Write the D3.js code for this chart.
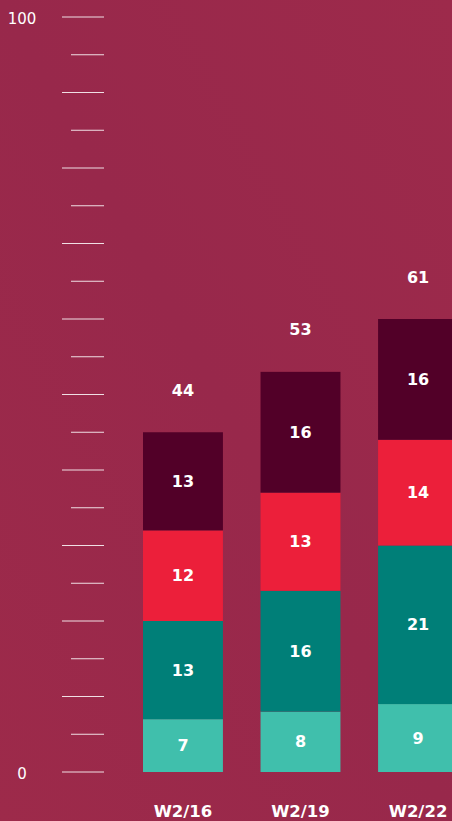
<!DOCTYPE html>
<html>
<head>
<meta charset="utf-8">
<script src="https://cdn.jsdelivr.net/npm/d3@7"></script>
<style>
  html, body { margin: 0; padding: 0; background: #9b2a4b; }
  svg { display: block; }
</style>
</head>
<body>
<svg id="chart" width="452" height="821"></svg>
<script>
// Waves and their stacked shares
const waves = ["W2/16", "W2/19", "W2/22"];
const seriesKeys = ["s1", "s2", "s3", "s4"];
const s1 = [7, 8, 9];
const s2 = [13, 16, 21];
const s3 = [12, 13, 14];
const s4 = [13, 16, 16];
const totals = [44, 53, 61];
const axisTicks = [0, 100];

const colors = { s1: "#40bfac", s2: "#007f78", s3: "#ec1f3a", s4: "#520028" };

const width = 452, height = 821;
const svg = d3.select("#chart");

// Background with a faint diagonal sheen
const defs = svg.append("defs");
const grad = defs.append("linearGradient")
  .attr("id", "bg").attr("x1", "0").attr("y1", "1").attr("x2", "1").attr("y2", "0");
grad.append("stop").attr("offset", "0").attr("stop-color", "#9d2a4a");
grad.append("stop").attr("offset", "0.5").attr("stop-color", "#98284b");
grad.append("stop").attr("offset", "1").attr("stop-color", "#9d2a4b");
svg.append("rect").attr("width", width).attr("height", height).attr("fill", "url(#bg)");

const rows = waves.map((w, i) => ({ wave: w, s1: s1[i], s2: s2[i], s3: s3[i], s4: s4[i], total: totals[i] }));

const y = d3.scaleLinear().domain([0, 100]).range([772, 17]);
const x = d3.scaleBand().domain(waves).range([143, 458]).paddingInner(0.32).paddingOuter(0);

// Tick marks every 5, longer every 10
const tickVals = d3.range(0, 101, 5);
svg.append("g").selectAll("line").data(tickVals).join("line")
  .attr("x1", d => d % 10 === 0 ? 62 : 71)
  .attr("x2", 104)
  .attr("y1", d => y(d)).attr("y2", d => y(d))
  .attr("stroke", "#ffffff").attr("stroke-opacity", 0.85).attr("stroke-width", 1);

svg.append("g").selectAll("text").data(axisTicks).join("text")
  .attr("x", 22)
  .attr("y", d => y(d) + 2)
  .attr("text-anchor", "middle")
  .attr("dominant-baseline", "middle")
  .attr("fill", "#ffffff")
  .attr("font-family", "'DejaVu Sans', sans-serif")
  .attr("font-weight", 400)
  .attr("font-size", 15)
  .text(d => d);

const stacked = d3.stack().keys(seriesKeys)(rows);

const g = svg.append("g");
stacked.forEach(layer => {
  const key = layer.key;
  g.append("g").selectAll("rect").data(layer).join("rect")
    .attr("x", d => x(d.data.wave))
    .attr("width", x.bandwidth())
    .attr("y", d => y(d[1]))
    .attr("height", d => y(d[0]) - y(d[1]))
    .attr("fill", colors[key]);
  g.append("g").selectAll("text").data(layer).join("text")
    .attr("x", d => x(d.data.wave) + x.bandwidth() / 2)
    .attr("y", d => (y(d[0]) + y(d[1])) / 2 + 1)
    .attr("text-anchor", "middle")
    .attr("dominant-baseline", "middle")
    .attr("fill", "#ffffff")
    .attr("font-family", "'DejaVu Sans', sans-serif")
    .attr("font-weight", 700)
    .attr("font-size", 16)
    .text(d => d.data[key]);
});

// Totals above each stack
const topLayer = stacked[stacked.length - 1];
svg.append("g").selectAll("text").data(topLayer).join("text")
  .attr("x", d => x(d.data.wave) + x.bandwidth() / 2)
  .attr("y", d => y(d[1]) - 41)
  .attr("text-anchor", "middle")
  .attr("dominant-baseline", "middle")
  .attr("fill", "#ffffff")
  .attr("font-family", "'DejaVu Sans', sans-serif")
  .attr("font-weight", 700)
  .attr("font-size", 16)
  .text(d => d.data.total);

// Wave labels
svg.append("g").selectAll("text").data(waves).join("text")
  .attr("x", d => x(d) + x.bandwidth() / 2)
  .attr("y", 812)
  .attr("text-anchor", "middle")
  .attr("dominant-baseline", "middle")
  .attr("fill", "#ffffff")
  .attr("font-family", "'DejaVu Sans', sans-serif")
  .attr("font-weight", 700)
  .attr("font-size", 16.5)
  .text(d => d);
</script>
</body>
</html>
